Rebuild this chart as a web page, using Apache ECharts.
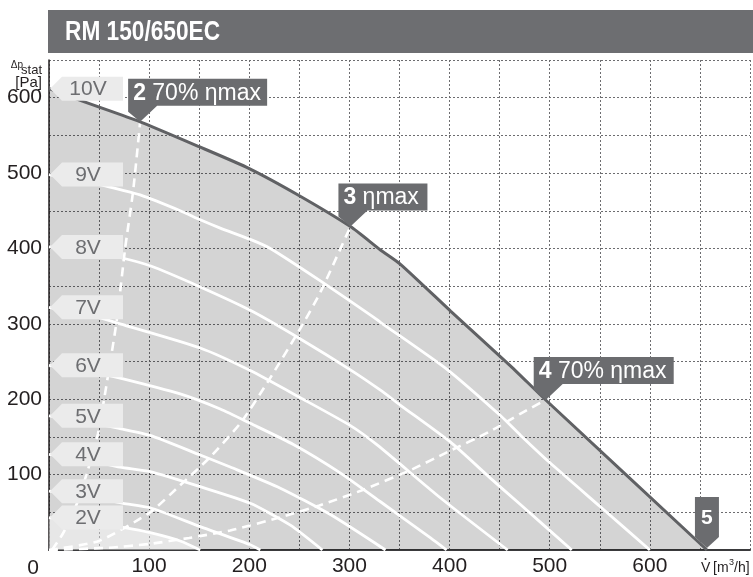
<!DOCTYPE html>
<html><head><meta charset="utf-8">
<script src="https://cdn.jsdelivr.net/npm/echarts@6/dist/echarts.min.js"></script>
<style>html,body{margin:0;padding:0;background:#fff}#c{width:753px;height:577px}</style>
</head><body><div id="c"></div>
<script>
const title = 'RM 150/650EC';
const xMax = 700, yMax = 650;
// characteristic curves [flow m3/h, pressure Pa]
const curve10V = [[0,612],[34,595],[91,568],[150,535],[200,506],[250,470],[301,429],[331,398],[351,379],[401,317],[461,244],[496,199],[657,0]];
const curve9V = [[0,498],[40,488],[71,478],[91,471],[131,450],[151,438],[171,427],[201,412],[221,400],[271,357],[324,309],[331,302],[398,239],[451,178],[471,152],[500,116],[550,58],[600,0]];
const curve8V = [[0,402],[40,396],[71,388],[101,377],[151,349],[201,318],[251,280],[301,239],[331,212],[351,192],[401,143],[441,95],[471,60],[522,0]];
const curve7V = [[0,322],[51,308],[71,300],[151,268],[201,238],[251,202],[301,165],[328,139],[391,69],[458,0]];
const curve6V = [[0,245],[40,237],[71,228],[131,207],[171,187],[201,168],[244,140],[290,103],[331,64],[381,16],[397,0]];
const curve5V = [[0,178],[40,170],[71,161],[101,152],[151,126],[181,110],[231,82],[281,47],[336,0]];
const curve4V = [[0,127],[40,119],[71,110],[101,104],[151,84],[201,62],[241,33],[273,0]];
const curve3V = [[0,78],[40,71],[74,62],[101,56],[151,31],[201,7],[211,0]];
const curve2V = [[0,43],[40,37],[74,30],[101,23],[131,12],[151,0]];
const voltCurves = [curve10V, curve9V, curve8V, curve7V, curve6V, curve5V, curve4V, curve3V, curve2V];
const voltNames = ['10V','9V','8V','7V','6V','5V','4V','3V','2V'];
// system (dashed) lines
const sys2 = [[3,0],[14,22],[28,62],[39,107],[49,155],[61,248],[68,308],[76,400],[84,476],[91,568]];
const sys3 = [[0,0],[50,12],[101,50],[131,86],[160,122],[191,168],[218,222],[251,294],[271,342],[301,429]];
const sys4 = [[0,0],[60,3],[100,8],[140,16],[181,26],[230,43],[270,59],[314,80],[361,106],[398,130],[440,157],[471,181],[496,199]];
// operating points
const opPoints = [
  {num:'2', txt:' 70% ηmax', pt:[91,568], w:139},
  {num:'3', txt:' ηmax', pt:[301,429], w:89},
  {num:'4', txt:' 70% ηmax', pt:[496,199], w:140}
];
const endPoint = {num:'5', pt:[657,0]};

const FONT = '"Liberation Sans", Arial, Helvetica, sans-serif';
const chart = echarts.init(document.getElementById('c'));
const SM = 0.2;
const series = [];
series.push({type:'line', data:curve10V, symbol:'none', smooth:SM, lineStyle:{width:0}, areaStyle:{color:'rgba(0,0,0,0.17)', opacity:1}, silent:true, z:2});
series.push({type:'line', data:curve2V, symbol:'none', smooth:SM, lineStyle:{width:0}, areaStyle:{color:'rgba(255,255,255,0.45)', opacity:1}, silent:true, z:2});
for (let i = 1; i < voltCurves.length; i++) {
  series.push({type:'line', name:voltNames[i], data:voltCurves[i], symbol:'none', smooth:SM, lineStyle:{color:'#ffffff', width:2.8}, silent:true, z:3});
}
[sys2, sys3, sys4].forEach(s => series.push({type:'line', data:s, symbol:'none', smooth:0.2, lineStyle:{color:'#ffffff', width:2.6, type:[9,6]}, silent:true, z:3}));
series.push({type:'line', name:'10V', data:curve10V, symbol:'none', smooth:SM, lineStyle:{color:'#606164', width:3}, silent:true, z:4});

const option = {
  animation:false,
  backgroundColor:'#ffffff',
  grid:{left:49, right:3, top:60, bottom:21, containLabel:false},
  xAxis:{type:'value', min:0, max:xMax, interval:50,
    axisLine:{show:true, onZero:false, lineStyle:{color:'#3a3a3c', width:2}},
    axisTick:{show:false},
    axisLabel:{fontSize:21, color:'#231f20', fontFamily:FONT, margin:6, showMaxLabel:false, showMinLabel:false,
      formatter:v => (v % 100 === 0 && v > 0 && v < xMax) ? String(v) : ''},
    splitLine:{show:true, lineStyle:{color:'#6d6d70', width:1, type:[2,2]}}},
  yAxis:{type:'value', min:0, max:yMax, interval:50,
    axisLine:{show:true, onZero:false, lineStyle:{color:'#231f20', width:1.5}},
    axisTick:{show:false},
    axisLabel:{fontSize:21, color:'#231f20', fontFamily:FONT, margin:7, padding:[6,0,0,0],
      formatter:v => (v % 100 === 0 && v > 0 && v < yMax) ? String(v) : ''},
    splitLine:{show:true, lineStyle:{color:'#6d6d70', width:1, type:[2,2]}}},
  series:series
};
chart.setOption(option);

const px = p => chart.convertToPixel({gridIndex:0}, p);
const g = [];
const T = (text, x, y, font, align, fill, extra) => Object.assign({type:'text', style:{text, x, y, fill: fill || '#231f20', font, align, verticalAlign:'middle', textAlign:align, textVerticalAlign:'middle'}, z:101}, extra || {});
// title bar
g.push({type:'rect', shape:{x:48, y:10, width:705, height:43}, style:{fill:'#6d6e71'}, z:100});
g.push({type:'text', x:65, y:33, scaleX:0.84, scaleY:1, style:{text:title, x:0, y:0, fill:'#ffffff', font:'bold 27px "Liberation Sans", Arial, sans-serif', align:'left', verticalAlign:'middle', textAlign:'left', textVerticalAlign:'middle'}, z:101});
// y axis title
g.push(T('Δp', 23, 65, '10px '+FONT, 'right'));
g.push(T('stat', 42, 70, '13px '+FONT, 'right'));
g.push(T('[Pa]', 42, 83, '15px '+FONT, 'right'));
// origin label
g.push(T('0', 33, 568, '21px '+FONT, 'center'));
// x axis unit
g.push(T('V', 701, 568, '14px '+FONT, 'left'));
g.push({type:'circle', shape:{cx:705.5, cy:559, r:1}, style:{fill:'#231f20'}, z:101});
g.push(T('[m', 713, 568, '14px '+FONT, 'left'));
g.push(T('3', 729, 563, '9px '+FONT, 'left'));
g.push(T('/h]', 734, 568, '14px '+FONT, 'left'));
// voltage labels
voltCurves.forEach((c, i) => {
  const p = px([0, c[0][1]]);
  const cy = p[1], x0 = p[0] + 1;
  g.push({type:'polygon', shape:{points:[[x0,cy],[x0+12,cy-12],[123,cy-12],[123,cy+12],[x0+12,cy+12]]}, style:{fill:'#ebebeb'}, z:110});
  g.push(T(voltNames[i], 88, cy+1, '21px '+FONT, 'center', '#6d6e71', {z:111}));
});
// operating point labels
opPoints.forEach(o => {
  const [tx, ty] = px(o.pt);
  const L = tx - 12, R = tx - 12 + o.w, Tp = ty - 43, B = ty - 16;
  g.push({type:'polygon', shape:{points:[[L,Tp],[R,Tp],[R,B],[tx+17,B],[tx,ty],[L,ty-10]]}, style:{fill:'#6b6c6f'}, z:120});
  g.push({type:'text', style:{text:'{b|' + o.num + '}' + o.txt, x:tx-7, y:(Tp+B)/2+1, fill:'#ffffff', font:'23px '+FONT, fontSize:23, fontFamily:FONT,
    rich:{b:{fontWeight:'bold', fontSize:23, fontFamily:FONT, fill:'#ffffff'}},
    align:'left', verticalAlign:'middle', textAlign:'left', textVerticalAlign:'middle'}, z:121});
});
{
  const [tx, ty] = px(endPoint.pt);
  g.push({type:'polygon', shape:{points:[[tx-12,ty-53],[tx+12,ty-53],[tx+12,ty-13],[tx,ty-2],[tx-12,ty-13]]}, style:{fill:'#6b6c6f'}, z:120});
  g.push(T(endPoint.num, tx, ty-32, 'bold 21px '+FONT, 'center', '#ffffff', {z:121}));
}
chart.setOption({graphic:{elements:g}});
</script>
</body></html>
